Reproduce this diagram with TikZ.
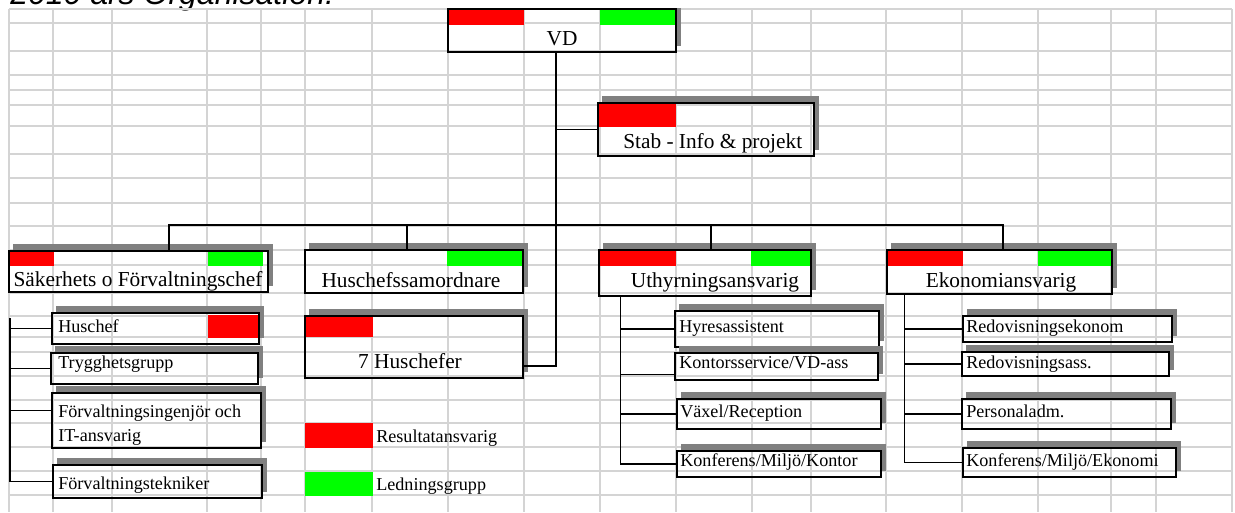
\documentclass[tikz,border=0pt]{standalone}
\usepackage{fontspec}
\setmainfont{Liberation Serif}
\newfontfamily\headfont{Liberation Sans}
\usetikzlibrary{fit,calc}
\definecolor{cellgrid}{RGB}{212,212,212}
\definecolor{shadowgray}{RGB}{128,128,128}
\definecolor{resred}{RGB}{255,0,0}
\definecolor{ledgreen}{RGB}{0,255,0}
\begin{document}
\begin{tikzpicture}[x=0.75pt, y=-0.75pt,
	cell/.style={cellgrid, line width=1.1pt},
	orgbox/.style={draw, line width=1.2pt, inner sep=0pt},
	boxshade/.style={fill=shadowgray},
	resbar/.style={fill=resred},
	ledbar/.style={fill=ledgreen},
	link/.style={line width=0.9pt},
	bigtext/.style={inner sep=0pt, font=\fontsize{16}{19}\selectfont},
	smalltext/.style={inner sep=0pt, font=\fontsize{13.6}{16}\selectfont}]
	\useasboundingbox (0,0) rectangle (1235,512);
	\node[anchor=base west, inner sep=0pt, font=\headfont\itshape\fontsize{24}{28}\selectfont] (title) at (10,4.5) {2010 års Organisation:};

	\begin{scope}
		\clip (0,8.2) rectangle (1235,512);
		% sheet grid
		\foreach \x in {9,53,112,207,261,305,372,448,524,600,676,752,811,886,962,1038,1111,1156,1232}
			\draw[cell] (\x,9) -- (\x,512);
		\foreach \y in {9,23,51,75,90,105,126,154,178,203,226,250,265,293,316,337,352,376,400,423,447,471,495}
			\draw[cell] (9,\y) -- (1232,\y);

		% boxes
		\node[orgbox, fit={(448,9) (676,52)}] (vd) {};
		\node[orgbox, fit={(598,103) (814,156)}] (stab) {};
		\node[orgbox, fit={(9,251) (268,292)}] (sak) {};
		\node[orgbox, fit={(305,250) (523,293)}] (hs) {};
		\node[orgbox, fit={(305,316) (523,378)}] (h7) {};
		\node[orgbox, fit={(599,250) (811,296)}] (uth) {};
		\node[orgbox, fit={(887,250) (1112,294)}] (eko) {};

		\node[orgbox, fit={(52,313) (259,344)}] (hc) {};
		\node[orgbox, fit={(51,353) (258,384)}] (tg) {};
		\node[orgbox, fit={(52,393) (261,448)}] (fi) {};
		\node[orgbox, fit={(53,465) (262,498)}] (ft) {};

		\node[orgbox, fit={(675,311) (879,347)}] (hy) {};
		\node[orgbox, fit={(675,353) (878,380)}] (ks) {};
		\node[orgbox, fit={(677,399) (881,429)}] (vr) {};
		\node[orgbox, fit={(677,451) (881,477)}] (kmk) {};

		\node[orgbox, fit={(963,316) (1172,342)}] (re) {};
		\node[orgbox, fit={(962,352) (1169,376)}] (ra) {};
		\node[orgbox, fit={(962,399) (1171,429)}] (pa) {};
		\node[orgbox, fit={(963,448) (1176,477)}] (kme) {};

		% shadow strips, top and right
		\foreach \n in {vd,stab,sak,hs,h7,uth,eko,hc,tg,fi,ft,hy,ks,vr,kmk,re,ra,pa,kme} {
			\fill[boxshade] ([shift={(4.5,-6.5)}]\n.north west) rectangle ([shift={(4.5,0)}]\n.north east);
			\fill[boxshade] (\n.north east) rectangle ([shift={(4.5,-6.5)}]\n.south east);
		}

		% colour bars
		\fill[resbar] ([shift={(1.6,1.6)}]vd.north west) rectangle ++(75,15);
		\fill[ledbar] ([shift={(-1.6,1.6)}]vd.north east) rectangle ++(-75,15);
		\fill[resbar] ([shift={(1.6,1.6)}]stab.north west) rectangle ++(77,23);
		\fill[resbar] ([shift={(1.6,1.6)}]sak.north west) rectangle ++(44,14);
		\fill[ledbar] ([shift={(-6,1.6)}]sak.north east) rectangle ++(-55,14);
		\fill[ledbar] ([shift={(-1.6,1.6)}]hs.north east) rectangle ++(-75,15);
		\fill[resbar] ([shift={(1.6,1.6)}]h7.north west) rectangle ++(67,20);
		\fill[resbar] ([shift={(1.6,1.6)}]uth.north west) rectangle ++(76,15);
		\fill[ledbar] ([shift={(-1.6,1.6)}]uth.north east) rectangle ++(-59,15);
		\fill[resbar] ([shift={(1.6,1.6)}]eko.north west) rectangle ++(75,15);
		\fill[ledbar] ([shift={(-1.6,1.6)}]eko.north east) rectangle ++(-73,15);
		\fill[resbar] ([shift={(-52,3)}]hc.north east) rectangle ([shift={(-1.6,-7)}]hc.south east);

		% texts
		\node[bigtext, anchor=base] (vdt) at (562,45) {VD};
		\node[bigtext, anchor=base west] (stabt) at (623,148) {Stab - Info \& projekt};
		\node[bigtext, anchor=base] (sakt) at (138,286) {Säkerhets o Förvaltningschef};
		\node[bigtext, anchor=base] (hst) at (411,287) {Huschefssamordnare};
		\node[bigtext, anchor=base] (h7t) at (410,368) {7 Huschefer};
		\node[bigtext, anchor=base] (utht) at (715,287) {Uthyrningsansvarig};
		\node[bigtext, anchor=base] (ekot) at (1001,287) {Ekonomiansvarig};

		\node[smalltext, anchor=base west] (hct) at (58,332) {Huschef};
		\node[smalltext, anchor=base west] (tgt) at (58,368) {Trygghetsgrupp};
		\node[smalltext, anchor=base west] (fit) at (58,417) {Förvaltningsingenjör och};
		\node[smalltext, anchor=base west] (fit2) at (58,441) {IT-ansvarig};
		\node[smalltext, anchor=base west] (ftt) at (58,489) {Förvaltningstekniker};

		\node[smalltext, anchor=base west] (hyt) at (679,332) {Hyresassistent};
		\node[smalltext, anchor=base west] (kst) at (679,368) {Kontorsservice/VD-ass};
		\node[smalltext, anchor=base west] (vrt) at (680,417) {Växel/Reception};
		\node[smalltext, anchor=base west] (kmkt) at (680,466) {Konferens/Miljö/Kontor};

		\node[smalltext, anchor=base west] (ret) at (966,332) {Redovisningsekonom};
		\node[smalltext, anchor=base west] (rat) at (966,368) {Redovisningsass.};
		\node[smalltext, anchor=base west] (pat) at (966,417) {Personaladm.};
		\node[smalltext, anchor=base west] (kmet) at (966,466) {Konferens/Miljö/Ekonomi};

		% legend
		\node[resbar, inner sep=0pt, fit={(305,423) (373,448)}] (lres) {};
		\node[smalltext, anchor=base west] (lrest) at (376,442) {Resultatansvarig};
		\node[ledbar, inner sep=0pt, fit={(305,472) (373,496)}] (lled) {};
		\node[smalltext, anchor=base west] (lledt) at (376,490) {Ledningsgrupp};

		% connectors
		\coordinate (bus) at (556,225);
		\coordinate (h7tap) at ($(h7.south east)!0.2!(h7.north east)$);
		\draw[link] (vd.south -| bus) |- (h7tap);
		\draw[link] (stab.west) -- (stab.west -| bus);

		\coordinate (sakup) at ($(sak.north)+(30.5,0)$);
		\coordinate (hsup) at ($(hs.north)+(-7,0)$);
		\coordinate (uthup) at ($(uth.north)+(6,0)$);
		\coordinate (ekoup) at ($(eko.north)+(3.5,0)$);
		\draw[link] (sakup) |- (bus) -| (ekoup);
		\draw[link] (hsup) -- (hsup |- bus);
		\draw[link] (uthup) -- (uthup |- bus);

		\coordinate (sakrail) at (10,318);
		\coordinate (fitap) at ($(fi.north west)!0.33!(fi.south west)$);
		\draw[link] (sakrail) |- (ft.west);
		\foreach \n in {hc,tg}
			\draw[link] (\n.west) -- (\n.west -| sakrail);
		\draw[link] (fitap) -- (fitap -| sakrail);

		\coordinate (uthrail) at ($(uth.south west)+(22,0)$);
		\coordinate (kstap) at ($(ks.north west)!0.78!(ks.south west)$);
		\draw[link] (uthrail) |- (kmk.west);
		\foreach \n in {hy,vr}
			\draw[link] (\n.west) -- (\n.west -| uthrail);
		\draw[link] (kstap) -- (kstap -| uthrail);

		\coordinate (ekorail) at ($(eko.south west)+(18,0)$);
		\draw[link] (ekorail) |- (kme.west);
		\foreach \n in {re,ra,pa}
			\draw[link] (\n.west) -- (\n.west -| ekorail);
	\end{scope}
\end{tikzpicture}
\end{document}
